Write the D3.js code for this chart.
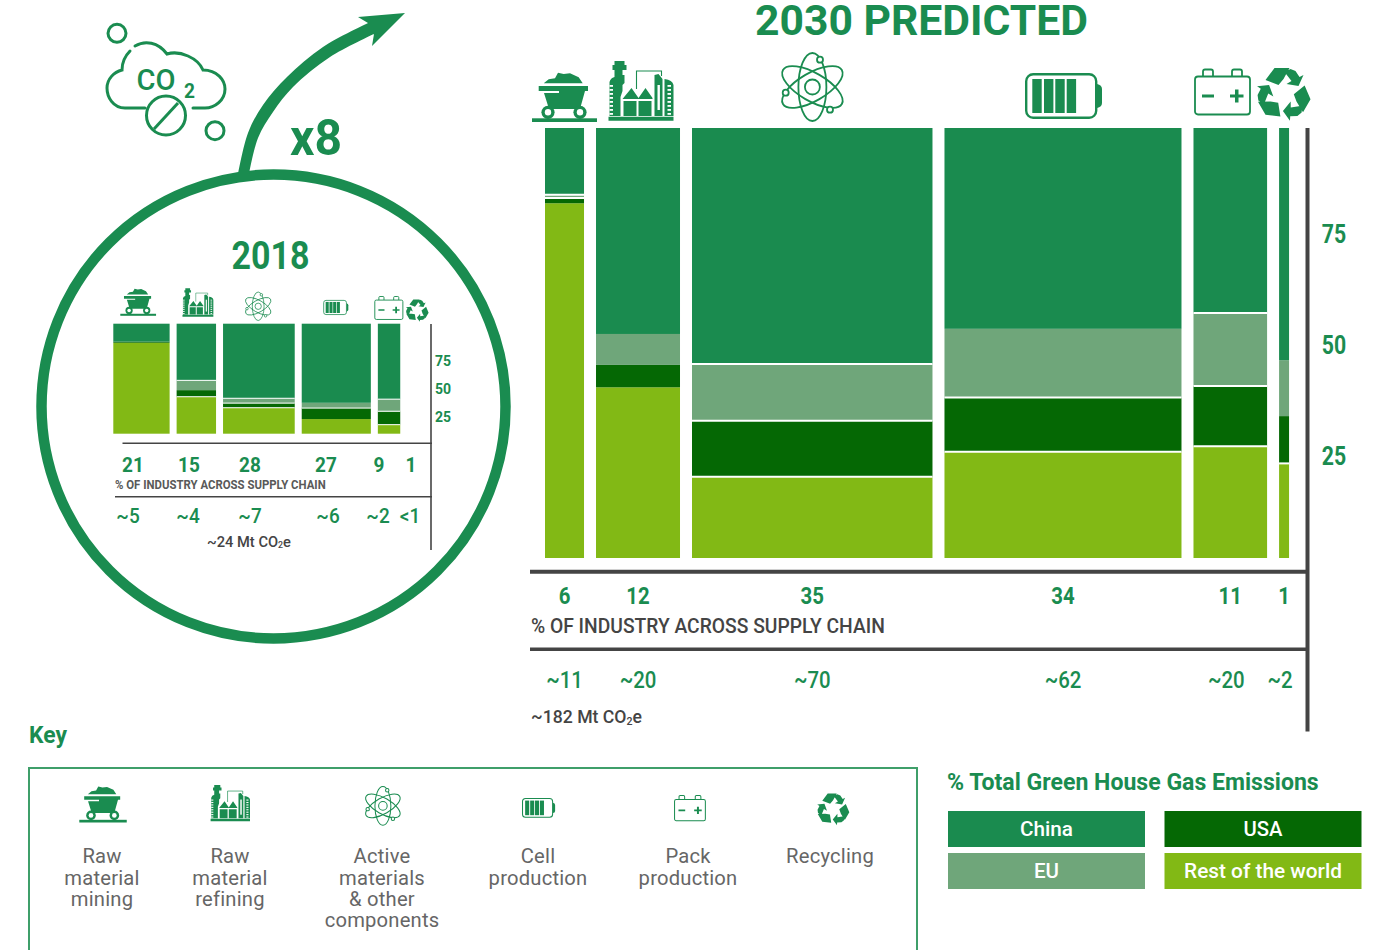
<!DOCTYPE html>
<html>
<head>
<meta charset="utf-8">
<script src="https://cdn.jsdelivr.net/npm/d3@7"></script>
<style>
  html, body { margin: 0; padding: 0; background: #fff; overflow: hidden; }
  text { font-family: Roboto, sans-serif; }
</style>
</head>
<body>
<div id="container"></div>
<script>
let w = 1384;
let h = 950;

let green = "#1a8c50";
let dark = "#444444";
let grey = "#595959";

// stack order is bottom to top
let regions = ["Rest of the world", "USA", "EU", "China"];
let regionColors = ["#82b915", "#056804", "#6fa67a", "#1a8b4f"];

// 2030 chart, every array is one column per supply chain stage
let rest2030 = [82.5, 39.7, 18.9, 24.7, 26, 22];
let usa2030 = [1.2, 5.2, 13, 12.6, 14, 11];
let eu2030 = [0.8, 7.2, 13.2, 16, 17, 13];
let china2030 = [15.5, 47.9, 54.9, 46.7, 43, 54];
let width2030 = [5.63, 12.12, 34.7, 34.2, 10.62, 1.44];
let share2030 = ["6", "12", "35", "34", "11", "1"];
let mt2030 = ["~11", "~20", "~70", "~62", "~20", "~2"];

// 2018 chart, recycling is too small to get a bar
let rest2018 = [82.7, 33.6, 23.6, 13.3, 8.2];
let usa2018 = [1, 6, 4.2, 10, 12.2];
let eu2018 = [0, 8.9, 4.4, 4.8, 11];
let china2018 = [16.3, 51.5, 67.8, 71.9, 68.6];
let width2018 = [22, 15.4, 28, 27, 8.75];
let share2018 = ["21", "15", "28", "27", "9", "1"];
let mt2018 = ["~5", "~4", "~7", "~6", "~2", "<1"];

let axisTicks = [25, 50, 75];

let keyNames = ["cart", "refinery", "atom", "battery", "pack", "recycle"];
let keyLabels = [
  ["Raw", "material", "mining"],
  ["Raw", "material", "refining"],
  ["Active", "materials", "& other", "components"],
  ["Cell", "production"],
  ["Pack", "production"],
  ["Recycling"]
];
let legendNames = ["China", "USA", "EU", "Rest of the world"];
let legendColors = ["#1a8b4f", "#056804", "#6fa67a", "#82b915"];

let viz = d3.select("#container")
  .append("svg")
    .attr("width", w)
    .attr("height", h)
    .style("display", "block")
    .style("background-color", "white")
;

// writes a text and squeezes it sideways (the font of the original is narrower)
// fit below 5 is a plain x scale, anything above is the wanted width in pixels
function label(parent, str, x, y, size, weight, fill, anchor, fit){
  let t = parent.append("text")
    .attr("font-size", size)
    .attr("font-weight", weight)
    .attr("fill", fill)
    .attr("text-anchor", anchor || "middle")
    .attr("dominant-baseline", "central")
  ;
  if (Array.isArray(str)) {
    // [before, subscript, after]
    t.append("tspan").text(str[0]);
    t.append("tspan").attr("font-size", size * 0.6).attr("dy", size * 0.25).text(str[1]);
    t.append("tspan").attr("dy", -size * 0.25).text(str[2]);
  } else {
    t.text(str);
  }
  let sx = 0.85;
  if (fit) {
    sx = fit < 5 ? fit : fit / t.node().getComputedTextLength();
  }
  t.attr("transform", "translate(" + x + "," + y + ") scale(" + sx + ",1)");
  return t;
}

// ---------- icons, drawn in their own little box and scaled afterwards ----------
let icons = {
  cart: function(g){
    g.append("rect").attr("x", 0).attr("y", 46.3).attr("width", 65).attr("height", 3.7).attr("fill", green);
    g.append("path").attr("fill", green)
      .attr("d", "M11.7,11.3L16.7,7.3L23,6.3L26,0.7L31.7,2L38,1.3L46.7,5.3L50.7,11.3Z");
    g.append("path").attr("fill", green)
      .attr("d", "M6.7,14H56V19H53L48,37H17L12,21H27V19H6.7Z");
    [16, 48].forEach(function(cx){
      g.append("circle").attr("cx", cx).attr("cy", 40.3).attr("r", 6.6).attr("fill", green);
      g.append("circle").attr("cx", cx).attr("cy", 40.3).attr("r", 3.2).attr("fill", "white");
    });
  },
  refinery: function(g){
    g.append("path").attr("fill", green)
      .attr("d", "M1,55.7H66V59.7H1Z M7,0H17V4H19V9H15V14H17V22L15,24V30L13,36V55H2V21Q3,17 7,16V9H5V4H7Z");
    g.append("path").attr("fill", green)
      .attr("d", "M15,38L24,27L31,37L38,27L45,37V38Z M16,40H29V55H16Z M31,40H44V55H31Z M47,14L51,13L55,18V55H47Z M57,18Q65,19 66,24V55H57Z");
    g.append("path").attr("fill", "none").attr("stroke", green).attr("stroke-width", 1.1)
      .attr("d", "M29,28V10H54V15");
    g.append("rect").attr("x", 50).attr("y", 24).attr("width", 2.4).attr("height", 25).attr("fill", "white");
    [24, 28, 32, 36, 40, 44, 48, 52].forEach(function(y){
      g.append("rect").attr("x", 2).attr("y", y).attr("width", 3.5).attr("height", 1.8).attr("fill", "white");
      g.append("rect").attr("x", 60).attr("y", y).attr("width", 3.5).attr("height", 1.8).attr("fill", "white");
    });
  },
  atom: function(g){
    [30, -30, 90].forEach(function(a){
      g.append("ellipse").attr("cx", 0).attr("cy", 0).attr("rx", 34).attr("ry", 14)
        .attr("fill", "none").attr("stroke", green).attr("stroke-width", 1.8)
        .attr("transform", "translate(31.4,34) rotate(" + a + ")");
    });
    g.append("circle").attr("cx", 31.4).attr("cy", 34).attr("r", 7.5)
      .attr("fill", "white").attr("stroke", green).attr("stroke-width", 1.8);
    [[39, 6.7], [4.7, 39.7], [49, 56.7]].forEach(function(p){
      g.append("circle").attr("cx", p[0]).attr("cy", p[1]).attr("r", 3)
        .attr("fill", "white").attr("stroke", green).attr("stroke-width", 1.8);
    });
  },
  battery: function(g){
    g.append("rect").attr("x", 1.2).attr("y", 1.2).attr("width", 70).attr("height", 43.6).attr("rx", 7)
      .attr("fill", "white").attr("stroke", green).attr("stroke-width", 2.4);
    g.append("path").attr("fill", green).attr("d", "M72,11Q77,12 77,16V30Q77,34 72,35Z");
    [7.3, 19, 30.3, 41.7].forEach(function(x){
      g.append("rect").attr("x", x).attr("y", 6).attr("width", 9.4).attr("height", 34).attr("fill", green);
    });
  },
  pack: function(g){
    g.append("path").attr("fill", "none").attr("stroke", green).attr("stroke-width", 1.8)
      .attr("d", "M9,8V3Q9,1 11,1H17Q19,1 19,3V8 M38,8V3Q38,1 40,1H46Q48,1 48,3V8");
    g.append("rect").attr("x", 1).attr("y", 8).attr("width", 55).attr("height", 38).attr("rx", 3)
      .attr("fill", "white").attr("stroke", green).attr("stroke-width", 1.8);
    g.append("path").attr("fill", green)
      .attr("d", "M8,26H20V29H8Z M41,21H44.5V26H49.5V29H44.5V34H41V29H36V26H41Z");
  },
  recycle: function(g){
    // a band and an arrow, three times around the middle
    [0, 120, 240].forEach(function(a){
      g.append("path").attr("fill", green)
        .attr("d", "M-18,-14L-9,-26H6L0,-15L-5,-9Z M1,-22L7,-25L12,-23L16,-17L20,-19L15,-8L3,-10L8,-13Z")
        .attr("transform", "translate(28.5,27) rotate(" + a + ")");
    });
  }
};

function icon(name, x, y, s){
  let g = viz.append("g").attr("class", "icon-" + name)
    .attr("transform", "translate(" + x + "," + y + ") scale(" + s + ")");
  icons[name](g);
}

// ---------- marimekko, same code for both years ----------
function marimekko(rest, usa, eu, china, widths, x0, gap, xScale, yScale, rules, ruleWidth){
  let rows = widths.map(function(d, i){
    return { "Rest of the world": rest[i], "USA": usa[i], "EU": eu[i], "China": china[i], w: d, i: i };
  });
  let left = x0;
  rows.forEach(function(d){
    d.x = left;
    left = left + xScale(d.w) + gap;
  });
  let layers = d3.stack().keys(regions)(rows);

  let groups = viz.append("g").selectAll(".layer").data(layers).enter()
    .append("g")
    .classed("layer", true)
    .attr("fill", function(d, i){ return regionColors[i]; })
  ;
  groups.selectAll("rect").data(function(d){ return d; }).enter()
    .append("rect")
      .attr("x", function(d){ return d.data.x; })
      .attr("width", function(d){ return xScale(d.data.w); })
      .attr("y", function(d){ return yScale(d[1]); })
      .attr("height", function(d){ return yScale(d[0]) - yScale(d[1]); })
  ;
  // thin white rules between some of the segments
  rules.forEach(function(list, col){
    list.forEach(function(layerIndex){
      let v = layers[layerIndex][col][1];
      viz.append("line")
        .attr("x1", rows[col].x).attr("x2", rows[col].x + xScale(rows[col].w))
        .attr("y1", yScale(v)).attr("y2", yScale(v))
        .attr("stroke", "white").attr("stroke-width", ruleWidth);
    });
  });
  return rows;
}

function rule(x1, y1, x2, y2, sw){
  viz.append("line").attr("x1", x1).attr("y1", y1).attr("x2", x2).attr("y2", y2)
    .attr("stroke", dark).attr("stroke-width", sw);
}

// ---------- 2030 ----------
let y2030 = d3.scaleLinear().domain([0, 100]).range([558, 128]);
let x2030 = d3.scaleLinear().domain([0, 100]).range([0, 693]);
let tick2030 = d3.scaleLinear().domain([25, 75]).range([456, 234]);

let cols2030 = marimekko(rest2030, usa2030, eu2030, china2030, width2030, 545, 12, x2030, y2030,
  [[1, 2], [], [0, 1, 2], [0, 1], [0, 1, 2], [0]], 2);

label(viz, "2030 PREDICTED", 755, 20, 43, 700, green, "start", 333);

icon("cart", 532, 72, 1);
icon("refinery", 607.5, 61, 1);
icon("atom", 781, 53, 1);
icon("battery", 1025, 73, 1);
icon("pack", 1194, 68.5, 1);
icon("recycle", 1255, 67, 1);

rule(530, 571.8, 1309, 571.8, 4);
rule(530, 649.3, 1309, 649.3, 3.6);
rule(1307.5, 128, 1307.5, 731.5, 4);

axisTicks.forEach(function(t){
  label(viz, t, 1334, tick2030(t), 25, 700, green, "middle");
});

share2030.forEach(function(d, i){
  let c = cols2030[i];
  label(viz, d, c.x + x2030(c.w) / 2, 595, 24, 700, green, "middle");
  let shift = i == 4 ? -4 : (i == 5 ? -4 : 0);
  label(viz, mt2030[i], c.x + x2030(c.w) / 2 + shift, 679, 24, 500, green, "middle");
});
label(viz, "% OF INDUSTRY ACROSS SUPPLY CHAIN", 531, 626, 20, 500, dark, "start", 354);
label(viz, ["~182 Mt CO", "2", "e"], 531, 716, 19, 500, dark, "start", 111);

// ---------- big circle and 2018 ----------
viz.append("circle").attr("cx", 273.5).attr("cy", 406.5).attr("r", 232)
  .attr("fill", "none").attr("stroke", green).attr("stroke-width", 10.5);

// the growth arrow, its two edges and then the head
let edge = d3.line().curve(d3.curveCatmullRom);
let leftEdge = edge([[238, 174], [248, 133], [263, 105], [287, 77], [323, 47], [368, 23]]);
let rightEdge = edge([[374, 34], [330, 57], [293, 87], [273, 112], [258, 138], [249, 174]]);
viz.append("path").attr("fill", green)
  .attr("d", leftEdge + "L358,17L405,13L372,46L" + rightEdge.slice(1) + "Z");

label(viz, "x8", 316, 138, 50, 700, green, "middle", 52);
label(viz, "2018", 270.5, 256.5, 38, 700, green, "middle", 78);

let y2018 = d3.scaleLinear().domain([0, 100]).range([433.7, 323.7]);
let x2018 = d3.scaleLinear().domain([0, 100]).range([0, 256]);
let tick2018 = d3.scaleLinear().domain([25, 75]).range([417, 361]);

marimekko(rest2018, usa2018, eu2018, china2018, width2018, 113.3, 7, x2018, y2018,
  [[], [0, 2], [0, 1, 2], [1], [0, 1, 2]], 1);

icon("cart", 120.3, 288.3, 0.55);
icon("refinery", 182, 288.3, 0.475);
icon("atom", 245, 292, 0.42);
icon("battery", 323.3, 300, 0.325);
icon("pack", 374.3, 296, 0.51);
icon("recycle", 405, 299, 0.425);

rule(122.5, 443.3, 432, 443.3, 1.6);
rule(115, 496.7, 432, 496.7, 1.6);
rule(431, 324, 431, 550, 1.6);

axisTicks.forEach(function(t){
  label(viz, t, 443, tick2018(t), 14, 700, green, "middle", 1);
});

let shareX2018 = [133, 189, 250, 326, 379, 411];
let mtX2018 = [128, 188, 250, 328, 378, 410];
share2018.forEach(function(d, i){
  label(viz, d, shareX2018[i], 465, 20, 700, green, "middle", 0.95);
  label(viz, mt2018[i], mtX2018[i], 516.5, 20, 500, green, "middle", 0.95);
});
label(viz, "% OF INDUSTRY ACROSS SUPPLY CHAIN", 115, 484.7, 12, 700, grey, "start", 211);
label(viz, ["~24 Mt CO", "2", "e"], 207, 541.5, 15, 500, dark, "start", 84);

// ---------- co2 cloud ----------
let co2 = viz.append("g").attr("fill", "none").attr("stroke", green).attr("stroke-width", 3);
co2.append("circle").attr("cx", 117).attr("cy", 33.3).attr("r", 9);
co2.append("circle").attr("cx", 215).attr("cy", 130.7).attr("r", 9);
co2.append("circle").attr("cx", 166).attr("cy", 115.5).attr("r", 19.5);
co2.append("line").attr("x1", 154).attr("y1", 129).attr("x2", 178).attr("y2", 103);
co2.append("path").attr("stroke-linecap", "round")
  .attr("d", "M135,46C145,40 158,42 167,54C180,50 198,58 203,70C217,70 225,80 225,89C225,100 215,108 205,108H193");
co2.append("path").attr("stroke-linecap", "round")
  .attr("d", "M145,108H125C113,108 107,97 107,88C107,79 114,72 122,70C122,62 124,57 130,51");
label(viz, "CO", 156, 79.5, 30, 500, green, "middle", 39);
label(viz, "2", 189.5, 90.5, 21, 700, green, "middle", 11);

// ---------- key ----------
label(viz, "Key", 29, 735, 24, 700, green, "start", 38);
viz.append("path")
  .attr("d", "M29,960V768H917V960")
  .attr("fill", "none").attr("stroke", "#3f9f6a").attr("stroke-width", 2);

let keyX = [102, 230, 382, 538, 688, 830];
let keyIconSpots = [[79.3, 786, 0.73], [210, 785, 0.606], [365, 786.5, 0.57], [522, 798, 0.43], [674, 795, 0.56], [816, 793, 0.6]];
let keyLineY = [856, 878, 899, 920];
keyNames.forEach(function(name, i){
  icon(name, keyIconSpots[i][0], keyIconSpots[i][1], keyIconSpots[i][2]);
  keyLabels[i].forEach(function(line, j){
    label(viz, line, keyX[i], keyLineY[j], 20, 400, "#666666", "middle", 1.01).attr("letter-spacing", 0.2);
  });
});

// ---------- legend ----------
label(viz, "% Total Green House Gas Emissions", 947, 782, 24, 700, green, "start", 372);
let legendBoxes = [[948, 811], [1164.5, 811], [948, 853], [1164.5, 853]];
let legendTextWidths = [53, 39, 25, 158];
legendNames.forEach(function(name, i){
  viz.append("rect")
    .attr("x", legendBoxes[i][0]).attr("y", legendBoxes[i][1])
    .attr("width", 197).attr("height", 36)
    .attr("fill", legendColors[i]);
  label(viz, name, legendBoxes[i][0] + 98.5, legendBoxes[i][1] + 18, 21, 500, "white", "middle", legendTextWidths[i]);
});
</script>
</body>
</html>
